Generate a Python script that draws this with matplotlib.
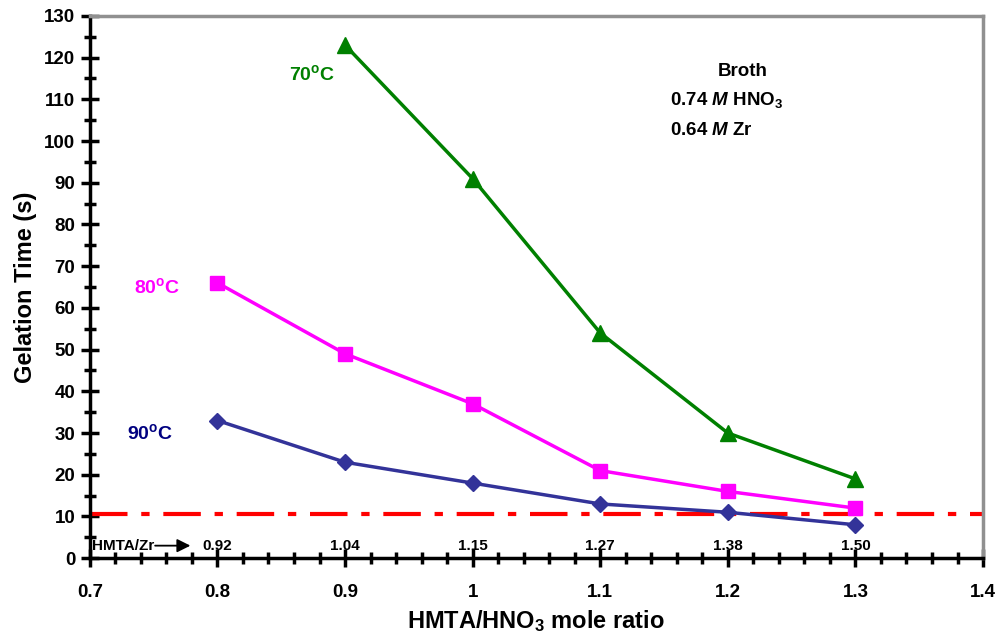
import matplotlib
matplotlib.use("Agg")
import matplotlib.pyplot as plt
from matplotlib.ticker import MultipleLocator

plt.rcParams['font.family'] = ['Liberation Sans', 'DejaVu Sans']
plt.rcParams['font.weight'] = 'bold'
plt.rcParams['mathtext.fontset'] = 'custom'
plt.rcParams['mathtext.rm'] = 'Liberation Sans:bold'
plt.rcParams['mathtext.it'] = 'Liberation Sans:bold:italic'
plt.rcParams['mathtext.bf'] = 'Liberation Sans:bold'

x_70 = [0.9, 1.0, 1.1, 1.2, 1.3]
y_70 = [123, 91, 54, 30, 19]
x_80 = [0.8, 0.9, 1.0, 1.1, 1.2, 1.3]
y_80 = [66, 49, 37, 21, 16, 12]
x_90 = [0.8, 0.9, 1.0, 1.1, 1.2, 1.3]
y_90 = [33, 23, 18, 13, 11, 8]
threshold = 10.5
zr_x = [0.8, 0.9, 1.0, 1.1, 1.2, 1.3]
zr_labels = ['0.92', '1.04', '1.15', '1.27', '1.38', '1.50']
x_ticks = [0.7, 0.8, 0.9, 1.0, 1.1, 1.2, 1.3, 1.4]
x_ticklabels = ['0.7', '0.8', '0.9', '1', '1.1', '1.2', '1.3', '1.4']

fig = plt.figure(figsize=(9.98, 6.35), dpi=100)
ax = fig.add_axes([0.090, 0.121, 0.895, 0.854])

ax.plot(x_70, y_70, color='#008000', lw=2.5, marker='^', ms=11, zorder=3)
ax.plot(x_80, y_80, color='#FF00FF', lw=2.5, marker='s', ms=10, zorder=3)
ax.plot(x_90, y_90, color='#333399', lw=2.5, marker='D', ms=8.5, zorder=3)
ax.axhline(threshold, color='#FF0000', lw=3, dashes=(9, 3.3, 2, 3.3), zorder=2)

ax.set_xlim(0.7, 1.4)
ax.set_ylim(0, 130)
ax.set_xticks(x_ticks)
ax.set_xticklabels(x_ticklabels)
ax.xaxis.set_minor_locator(MultipleLocator(0.02))
ax.yaxis.set_major_locator(MultipleLocator(10))
ax.yaxis.set_minor_locator(MultipleLocator(5))
ax.tick_params(axis='both', which='major', direction='inout', length=13, width=2.5, labelsize=13.5)
ax.tick_params(axis='both', which='minor', direction='inout', length=8, width=2.5)
ax.tick_params(axis='y', which='major', pad=4)
ax.tick_params(axis='x', which='major', pad=12)
for lab in ax.get_xticklabels() + ax.get_yticklabels():
    lab.set_fontweight('bold')

for s in ['left', 'bottom']:
    ax.spines[s].set_linewidth(2.5)
    ax.spines[s].set_color('black')
for s in ['top', 'right']:
    ax.spines[s].set_linewidth(2.5)
    ax.spines[s].set_color('#909090')

ax.set_xlabel(r'HMTA/HNO$_3$ mole ratio', fontsize=17, fontweight='bold', labelpad=5)
ax.set_ylabel('Gelation Time (s)', fontsize=17, fontweight='bold', labelpad=5)

ax.text(0.874, 116, r'70$^\mathrm{o}$C', color='#008000', fontsize=14, fontweight='bold', ha='center', va='center')
ax.text(0.7525, 65, r'80$^\mathrm{o}$C', color='#FF00FF', fontsize=14, fontweight='bold', ha='center', va='center')
ax.text(0.747, 30, r'90$^\mathrm{o}$C', color='#000080', fontsize=14, fontweight='bold', ha='center', va='center')

ax.text(1.212, 116.6, 'Broth', fontsize=13.5, fontweight='bold', ha='center', va='center')
ax.text(1.155, 109.8, r'0.74 $\mathit{M}$ HNO$_3$', fontsize=13.5, fontweight='bold', ha='left', va='center')
ax.text(1.155, 102.6, r'0.64 $\mathit{M}$ Zr', fontsize=13.5, fontweight='bold', ha='left', va='center')

ax.text(0.702, 3.0, 'HMTA/Zr', fontsize=11, fontweight='bold', ha='left', va='center')
ax.annotate('', xy=(0.781, 3.0), xytext=(0.749, 3.0),
            arrowprops=dict(arrowstyle='-|>', color='black', lw=1.3, mutation_scale=20))
for xv, lab in zip(zr_x, zr_labels):
    ax.text(xv, 3.0, lab, fontsize=11, fontweight='bold', ha='center', va='center')

fig.savefig('out.png', dpi=100)
